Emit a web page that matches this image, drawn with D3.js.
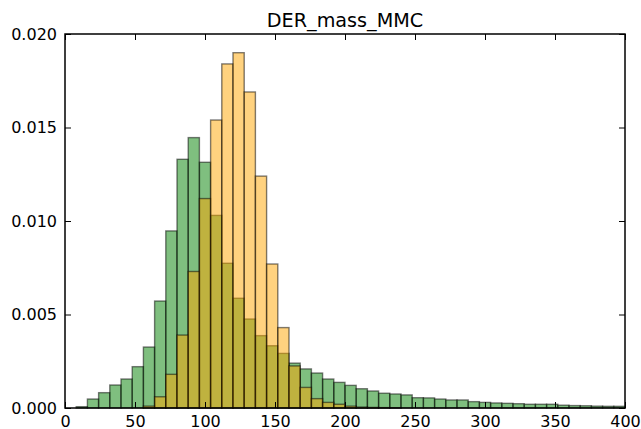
<!DOCTYPE html>
<html>
<head>
<meta charset="utf-8">
<script src="https://cdn.jsdelivr.net/npm/d3@7"></script>
<style>
  body { margin: 0; background: #fff; }
  svg text { font-family: "DejaVu Sans", sans-serif; fill: #000; }
</style>
</head>
<body>
<svg id="chart" width="641" height="429"></svg>
<script>
/* ── Data: normalized histograms, 50 bins of width 8 over [0, 400] ── */
const binEdges = d3.range(0, 401, 8);
const xTicks = [0, 50, 100, 150, 200, 250, 300, 350, 400];
const yTicks = [0, 0.005, 0.010, 0.015, 0.020];

const background = [
  0, 0.00007, 0.00048, 0.00082, 0.00123, 0.00155, 0.00221, 0.00326, 0.00572, 0.00947,
  0.01330, 0.01446, 0.01314, 0.01030, 0.00774, 0.00587, 0.00476, 0.00387, 0.00333, 0.00292,
  0.00240, 0.00209, 0.00187, 0.00155, 0.00137, 0.00121, 0.00103, 0.00091, 0.00079, 0.00075,
  0.00070, 0.00055, 0.00054, 0.00048, 0.00043, 0.00043, 0.00034, 0.00030, 0.00027, 0.00025,
  0.00023, 0.00020, 0.00020, 0.00020, 0.00015, 0.00013, 0.00012, 0.00010, 0.00009, 0.00009
];
const signal = [
  0, 0, 0, 0, 0, 0, 0, 0.0001, 0.0006, 0.0018,
  0.0039, 0.0073, 0.0112, 0.0154, 0.0184, 0.0190, 0.0169, 0.0124, 0.0077, 0.0043,
  0.00225, 0.0011, 0.0005, 0.0003, 0.0002, 0.0001, 0.00005, 0.00003, 0.00002, 0.00001,
  0, 0, 0, 0, 0, 0, 0, 0, 0, 0,
  0, 0, 0, 0, 0, 0, 0, 0, 0, 0
];

/* ── Layout ─────────────────────────────────────────────────────── */
const plot = { left: 65, right: 625, top: 34, bottom: 408 };
const svg = d3.select("#chart");

const x = d3.scaleLinear().domain([0, 400]).range([plot.left, plot.right]);
const y = d3.scaleLinear().domain([0, 0.020]).range([plot.bottom, plot.top]);

/* Draw one histogram series as separate rects (like matplotlib bars) */
function drawHist(values, color) {
  svg.append("g")
    .selectAll("rect")
    .data(values)
    .enter().append("rect")
      .attr("x", (d, i) => x(binEdges[i]))
      .attr("width", (d, i) => x(binEdges[i + 1]) - x(binEdges[i]))
      .attr("y", d => y(d))
      .attr("height", d => y(0) - y(d))
      .attr("fill", color)
      .attr("fill-opacity", 0.5)
      .attr("stroke", "#000")
      .attr("stroke-opacity", 0.5)
      .attr("stroke-width", 1.4);
}

drawHist(background, "#008000");
drawHist(signal, "#ffa500");

/* ── Axes: ticks point inward on all four sides ─────────────────── */
const tick = 6;

const axBottom = svg.append("g")
  .attr("transform", `translate(0,${plot.bottom})`)
  .call(d3.axisBottom(x).tickValues(xTicks).tickSize(-tick).tickPadding(8).tickFormat(d3.format("d")));
const axTop = svg.append("g")
  .attr("transform", `translate(0,${plot.top})`)
  .call(d3.axisTop(x).tickValues(xTicks).tickSize(-tick).tickFormat(""));
const axLeft = svg.append("g")
  .attr("transform", `translate(${plot.left},0)`)
  .call(d3.axisLeft(y).tickValues(yTicks).tickSize(-tick).tickPadding(8).tickFormat(d3.format(".3f")));
const axRight = svg.append("g")
  .attr("transform", `translate(${plot.right},0)`)
  .call(d3.axisRight(y).tickValues(yTicks).tickSize(-tick).tickFormat(""));

for (const g of [axBottom, axTop, axLeft, axRight]) {
  g.select(".domain").remove();
  g.selectAll("line").attr("stroke", "#000").attr("stroke-width", 1);
  g.selectAll("text").attr("font-size", 16).attr("font-family", "DejaVu Sans");
}

/* Frame on top of everything */
svg.append("rect")
  .attr("x", plot.left).attr("y", plot.top)
  .attr("width", plot.right - plot.left).attr("height", plot.bottom - plot.top)
  .attr("fill", "none").attr("stroke", "#000").attr("stroke-width", 1.5);

/* Title */
svg.append("text")
  .attr("x", (plot.left + plot.right) / 2)
  .attr("y", 27)
  .attr("text-anchor", "middle")
  .attr("font-size", 19.2)
  .text("DER_mass_MMC");
</script>
</body>
</html>
